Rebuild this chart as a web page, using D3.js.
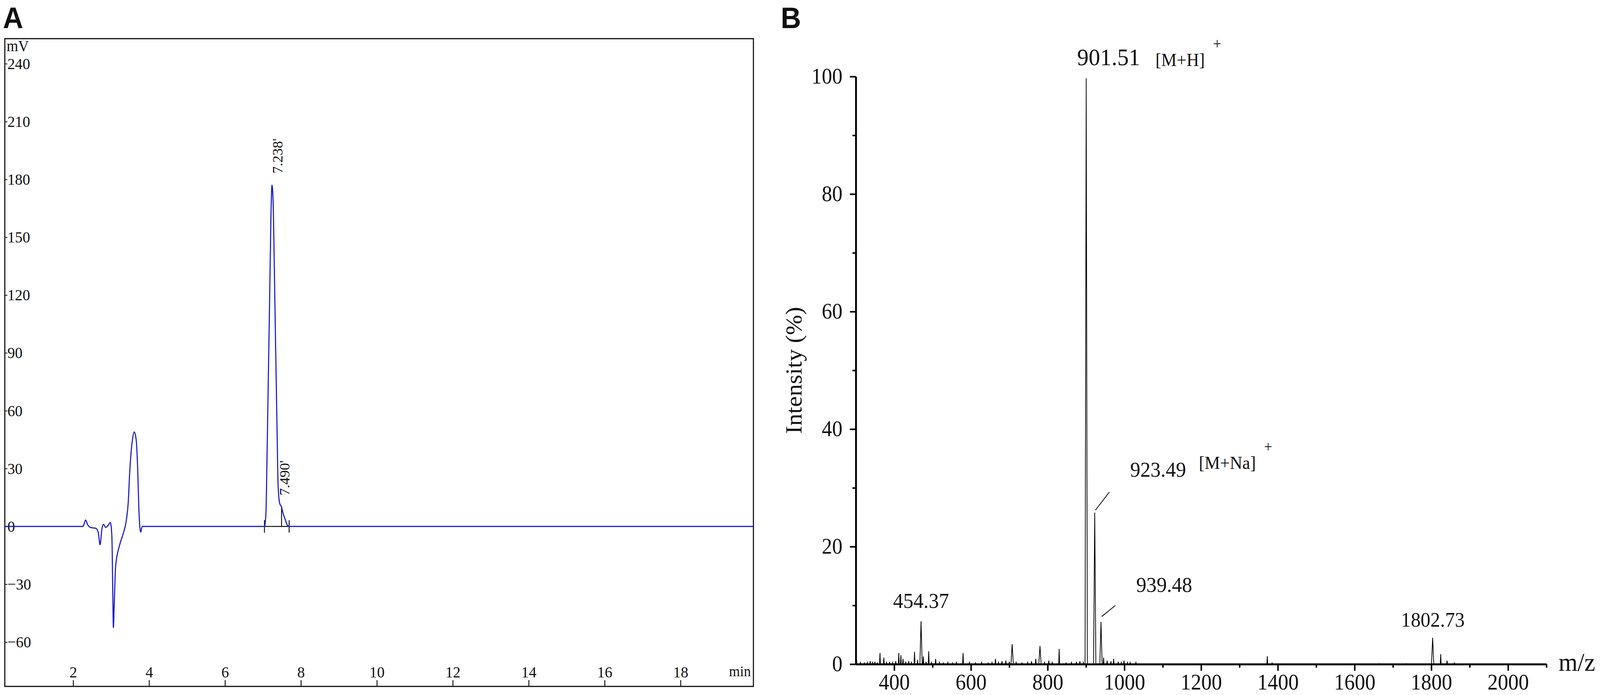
<!DOCTYPE html>
<html lang="en">
<head>
  <meta charset="UTF-8">
  <title>HPLC chromatogram and mass spectrum</title>
  <script src="https://d3js.org/d3.v7.min.js"></script>
  <style>
    html, body {
      margin: 0;
      padding: 0;
      background: #fff;
      overflow: hidden;
    }
    svg {
      display: block;
    }
    text {
      font-family: "Liberation Serif", "Times New Roman", serif;
      fill: #111;
    }
    .panel-letter {
      font-family: "Liberation Sans", Arial, sans-serif;
      font-weight: bold;
      font-size: 76px;
    }
    .trace {
      fill: none;
      stroke: #1e1ec8;
      stroke-width: 3;
    }
    .spectrum {
      fill: none;
      stroke: #000;
      stroke-width: 2;
    }
  </style>
</head>
<body>
  <div id="container"></div>

  <script>
    const width = 4328;
    const height = 1780;

    // ---- panel A: HPLC trace (min, mV) ----
    const hplcTime = [0.2, 2.26, 2.30, 2.33, 2.38, 2.45, 2.60, 2.66, 2.71, 2.76, 2.80, 2.86, 2.92, 2.98,
      3.02, 3.045, 3.06, 3.08, 3.12, 3.22, 3.32, 3.40, 3.45, 3.49, 3.56, 3.61, 3.66, 3.70, 3.73, 3.76, 3.78, 3.82,
      7.04, 7.077, 7.11, 7.144, 7.178, 7.211, 7.238, 7.265, 7.30, 7.334, 7.37, 7.40, 7.44, 7.49, 7.52, 7.59, 7.64, 7.69,
      19.92]
    const hplcSignal = [0, 0, 2, 3.3, 1, -0.5, -1, -3, -9.5, -1, 1, -0.5, 0.5, 2,
      -5, -35, -52.5, -42, -20.5, -10, -3.7, 3, 12, 28, 44.6, 49, 45, 30, 10, -1, -3, 0,
      0, 6, 39, 80, 120, 161, 177, 170, 134, 93, 52, 21, 12, 10, 7.5, 3.4, 0.7, 0,
      0]
    const hplcYTicks = [-60, -30, 0, 30, 60, 90, 120, 150, 180, 210, 240]
    const hplcXTicks = [2, 4, 6, 8, 10, 12, 14, 16, 18]
    const peakTimes = [7.238, 7.490]
    const peakHeights = [177, 10]
    const peakNames = ["7.238'", "7.490'"]
    const integStart = 7.04
    const integEnd = 7.69

    // ---- panel B: mass spectrum (m/z, %) ----
    const msMz = [302, 312, 322, 330, 337.5, 344, 349.7, 356, 363, 373, 380, 388, 396, 404, 412, 417.5, 423, 430, 438, 445,
      453, 461, 470, 476, 483, 490, 497, 508, 518, 528, 540, 552, 562, 579.5, 596, 612, 628, 645, 655, 664, 672, 681, 691,
      700, 707.5, 718, 733, 748, 758, 769, 780, 792, 803, 812, 830, 848, 862, 875, 884, 893, 900.5, 922.7, 939, 945.8,
      955, 965, 972, 984, 992, 999, 1008, 1015, 1030, 1372.5, 1385, 1665, 1735, 1803.5, 1824.5, 1841, 1860]
    const msIntensity = [0.7, 0.3, 0.2, 0.3, 0.5, 0.3, 0.4, 0.2, 1.9, 1.1, 0.3, 0.4, 0.3, 0.5, 1.9, 1.5, 0.9, 0.4, 0.5, 0.3,
      2.1, 0.7, 7.3, 1.3, 0.4, 2.2, 0.3, 0.9, 0.3, 0.2, 0.3, 0.2, 0.3, 1.9, 0.3, 0.2, 0.3, 0.2, 0.3, 0.9, 0.3, 0.5, 0.6,
      0.4, 3.4, 0.3, 0.2, 0.3, 0.5, 0.9, 3.1, 0.3, 0.6, 0.3, 2.6, 0.2, 0.3, 0.4, 0.5, 0.3, 99.7, 25.8, 7.2, 1.1,
      0.6, 0.5, 0.9, 0.4, 0.3, 0.6, 0.3, 0.3, 0.3, 1.35, 0.2, 0.1, 0.1, 4.5, 1.7, 0.6, 0.2]
    const msYTicks = [0, 20, 40, 60, 80, 100]
    const msYMinor = [10, 30, 50, 70, 90]
    const msXTicks = [400, 600, 800, 1000, 1200, 1400, 1600, 1800, 2000]
    const msXMinor = [500, 700, 900, 1100, 1300, 1500, 1700, 1900, 2100]

    // peak annotations: text, anchor m/z, anchor %, alignment
    const annText = ['901.51', '923.49', '939.48', '454.37', '1802.73']
    const annMz = [877, 1015, 1031, 470, 1804]
    const annPct = [101.9, 31.9, 12.3, 9.6, 6.4]
    const annAnchor = ['start', 'start', 'start', 'middle', 'middle']
    const annSize = [62, 55, 55, 55, 53]
    const ionText = ['[M+H]', '[M+Na]']
    const ionMz = [1081, 1194]
    const ionPct = [101.8, 33.2]
    // leader lines from peak top to label
    const leaderFrom = [[924.5, 26.2], [941, 8.1]]
    const leaderTo = [[961, 29.3], [976.6, 10]]

    // laid out on a 4328x1780 grid, stretched onto whatever the window really is
    const viewW = window.innerWidth || width
    const viewH = window.innerHeight || height
    const svg = d3.select('#container').append('svg')
      .attr('width', viewW).attr('height', viewH)
      .attr('viewBox', `0 0 ${width} ${height}`)
      .attr('preserveAspectRatio', 'none')

    // ================= panel A =================
    const frameA = { x0: 13, x1: 2038, y0: 99, y1: 1758 }
    const xA = d3.scaleLinear().domain([0.2, 19.92]).range([frameA.x0, frameA.x1])
    const yA = d3.scaleLinear().domain([-83, 253]).range([frameA.y1, frameA.y0])

    svg.append('text').attr('class', 'panel-letter').attr('x', 8).attr('y', 72).text('A')

    svg.append('rect')
      .attr('x', frameA.x0).attr('y', frameA.y0)
      .attr('width', frameA.x1 - frameA.x0).attr('height', frameA.y1 - frameA.y0)
      .attr('fill', 'none').attr('stroke', '#111').attr('stroke-width', 3)

    const yAxisA = svg.append('g').attr('transform', `translate(${frameA.x0},0)`)
      .call(d3.axisRight(yA).tickValues(hplcYTicks).tickSize(7).tickPadding(0).tickSizeOuter(0))
    yAxisA.select('.domain').remove()
    yAxisA.selectAll('line').attr('stroke', '#111').attr('stroke-width', 2)
    yAxisA.selectAll('text').attr('font-size', 41).attr('font-family', '"Liberation Serif", serif').attr('fill', '#111')

    const xAxisA = svg.append('g').attr('transform', `translate(0,${frameA.y1})`)
      .call(d3.axisTop(xA).tickValues(hplcXTicks).tickSize(16).tickPadding(7).tickSizeOuter(0))
    xAxisA.select('.domain').remove()
    xAxisA.selectAll('line').attr('stroke', '#111').attr('stroke-width', 2.5)
    xAxisA.selectAll('text').attr('font-size', 41).attr('font-family', '"Liberation Serif", serif').attr('fill', '#111')

    svg.append('text').attr('x', 18).attr('y', 131).attr('font-size', 40).text('mV')
    svg.append('text').attr('x', 2031).attr('y', 1732).attr('font-size', 38)
      .attr('text-anchor', 'end').text('min')

    // integration baseline and markers
    const marks = svg.append('g').attr('stroke', '#111').attr('stroke-width', 2.5)
    marks.append('line')
      .attr('x1', xA(integStart)).attr('x2', xA(integEnd)).attr('y1', yA(0)).attr('y2', yA(0))
    marks.selectAll('.edge').data([integStart, integEnd]).join('line')
      .attr('x1', d => xA(d)).attr('x2', d => xA(d))
      .attr('y1', yA(0) - 16).attr('y2', yA(0) + 16)
    marks.append('line')
      .attr('x1', xA(peakTimes[1])).attr('x2', xA(peakTimes[1]))
      .attr('y1', yA(0)).attr('y2', yA(peakHeights[1]))

    const trace = d3.line()
      .x((d, i) => xA(hplcTime[i]))
      .y(d => yA(d))
      .curve(d3.curveMonotoneX)
    svg.append('path').datum(hplcSignal).attr('class', 'trace').attr('d', trace)

    // rotated retention time labels
    const labelOffset = [[28, -15], [21, -15]]
    svg.selectAll('.rt').data(peakNames).join('text')
      .attr('font-size', 37)
      .attr('transform', (d, i) =>
        `translate(${xA(peakTimes[i]) + labelOffset[i][0]},${yA(peakHeights[i] + 3) + labelOffset[i][1]}) rotate(-90)`)
      .text(d => d)

    // ================= panel B =================
    const xB = d3.scaleLinear().domain([300, 2100]).range([2315, 4183])
    const yB = d3.scaleLinear().domain([0, 100]).range([1701, 196])

    svg.append('text').attr('class', 'panel-letter').attr('x', 2112).attr('y', 72).text('B')

    const spectrumPts = []
    msMz.forEach((m, i) => {
      const hw = msIntensity[i] > 3 ? 3 : 1.2
      spectrumPts.push([m - hw, 0], [m, msIntensity[i]], [m + hw, 0])
    })
    const specLine = d3.line().x(d => xB(d[0])).y(d => yB(d[1]))
    svg.append('path').datum(spectrumPts).attr('class', 'spectrum').attr('d', specLine)

    const yAxisB = svg.append('g').attr('transform', `translate(${xB(300)},0)`)
      .call(d3.axisLeft(yB).tickValues(msYTicks).tickSize(16).tickPadding(20).tickSizeOuter(0))
    yAxisB.select('.domain').attr('stroke', '#000').attr('stroke-width', 5)
    yAxisB.selectAll('line').attr('stroke', '#000').attr('stroke-width', 4)
    yAxisB.selectAll('text').attr('font-size', 56).attr('font-family', '"Liberation Serif", serif').attr('fill', '#111')
    svg.append('g').attr('transform', `translate(${xB(300)},0)`)
      .call(d3.axisLeft(yB).tickValues(msYMinor).tickSize(9).tickFormat('').tickSizeOuter(0))
      .call(g => g.select('.domain').remove())
      .selectAll('line').attr('stroke', '#000').attr('stroke-width', 4)

    const xAxisB = svg.append('g').attr('transform', `translate(0,${yB(0)})`)
      .call(d3.axisBottom(xB).tickValues(msXTicks).tickFormat(d3.format('d'))
        .tickSize(17).tickPadding(8).tickSizeOuter(0))
    xAxisB.select('.domain').attr('stroke', '#000').attr('stroke-width', 5)
    xAxisB.selectAll('line').attr('stroke', '#000').attr('stroke-width', 4)
    xAxisB.selectAll('text').attr('font-size', 56).attr('font-family', '"Liberation Serif", serif').attr('fill', '#111')
    svg.append('g').attr('transform', `translate(0,${yB(0)})`)
      .call(d3.axisBottom(xB).tickValues(msXMinor).tickSize(9).tickFormat('').tickSizeOuter(0))
      .call(g => g.select('.domain').remove())
      .selectAll('line').attr('stroke', '#000').attr('stroke-width', 4)

    svg.append('text').attr('x', 4216).attr('y', 1718).attr('font-size', 66).text('m/z')
    svg.append('text').attr('font-size', 62).attr('text-anchor', 'middle')
      .attr('transform', `translate(2168,${yB(50)}) rotate(-90)`).text('Intensity (%)')

    // annotations
    svg.selectAll('.ann').data(annText).join('text')
      .attr('x', (d, i) => xB(annMz[i])).attr('y', (d, i) => yB(annPct[i]))
      .attr('text-anchor', (d, i) => annAnchor[i])
      .attr('font-size', (d, i) => annSize[i])
      .text(d => d)

    const ions = svg.selectAll('.ion').data(ionText).join('text')
      .attr('x', (d, i) => xB(ionMz[i])).attr('y', (d, i) => yB(ionPct[i]))
      .attr('font-size', 47)
    ions.append('tspan').text(d => d)
    ions.append('tspan').attr('dx', 22).attr('dy', -44).attr('font-size', 40).text('+')

    svg.selectAll('.leader').data(leaderFrom).join('line')
      .attr('x1', d => xB(d[0])).attr('y1', d => yB(d[1]))
      .attr('x2', (d, i) => xB(leaderTo[i][0])).attr('y2', (d, i) => yB(leaderTo[i][1]))
      .attr('stroke', '#000').attr('stroke-width', 2)
  </script>
</body>
</html>
